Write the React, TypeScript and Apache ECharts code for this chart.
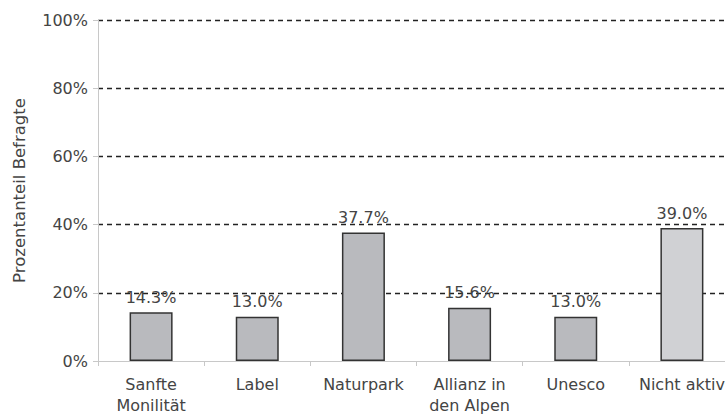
import React, { useEffect, useRef } from "react";
import * as echarts from "echarts";

const categories = ["Sanfte\nMonilität", "Label", "Naturpark", "Allianz in\nden Alpen", "Unesco", "Nicht aktiv"];
const values = [14.3, 13.0, 37.7, 15.6, 13.0, 39.0];
const barColors = ["#b9babe", "#b9babe", "#b9babe", "#b9babe", "#b9babe", "#d0d1d4"];

export default function App() {
  const ref = useRef<HTMLDivElement>(null);
  useEffect(() => {
    const chart = echarts.init(ref.current!, null, { renderer: "svg" });
    const font = "DejaVu Sans, Verdana, sans-serif";
    chart.setOption({
      animation: false,
      grid: { left: 98, top: 20, width: 637, height: 341 },
      xAxis: {
        type: "category",
        data: categories,
        axisLine: { lineStyle: { color: "#c8c8c8", width: 1 } },
        axisTick: { show: true, length: 5, lineStyle: { color: "#c8c8c8" } },
        axisLabel: { color: "#444", fontSize: 16, fontFamily: font, margin: 13, lineHeight: 21, interval: 0 },
      },
      yAxis: {
        type: "value",
        min: 0,
        max: 100,
        interval: 20,
        name: "Prozentanteil Befragte",
        nameLocation: "middle",
        nameGap: 70,
        nameTextStyle: { color: "#444", fontSize: 16.5, fontFamily: font },
        axisLine: { show: true, lineStyle: { color: "#c8c8c8" } },
        axisTick: { show: true, length: 5, lineStyle: { color: "#c8c8c8" } },
        axisLabel: { color: "#444", fontSize: 16, fontFamily: font, formatter: "{value}%", margin: 10 },
        splitLine: { show: true, showMinLine: false, lineStyle: { color: "#222", type: [5, 4], width: 1.3 } },
      },
      series: [
        {
          type: "bar",
          barWidth: 43,
          data: values.map((v, i) => ({
            value: v,
            itemStyle: { color: barColors[i], borderColor: "#333", borderWidth: 1.5 },
          })),
          label: {
            show: true,
            position: "top",
            distance: 7,
            color: "#444",
            fontSize: 16,
            fontFamily: font,
            formatter: (p: any) => p.value.toFixed(1) + "%",
          },
        },
      ],
    });
    return () => chart.dispose();
  }, []);
  return (
    <div style={{ width: 725, height: 417, position: "absolute", left: 0, top: 0, overflow: "hidden" }}>
      <div ref={ref} style={{ width: 750, height: 417 }} />
    </div>
  );
}
